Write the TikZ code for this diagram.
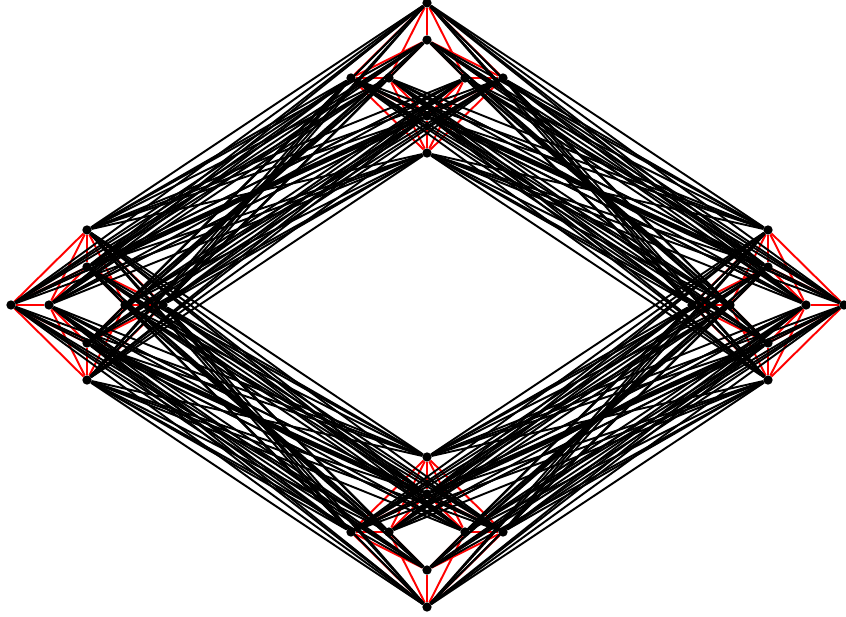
\documentclass[tikz,border=0pt]{standalone}
\usepackage{xcolor}
\definecolor{cred}{HTML}{FF0000}
\tikzset{
  vertexdot/.style={circle,fill=black,inner sep=0pt,minimum size=7pt},
  crossedge/.style={black,line width=1.45pt},
  withinedge/.style={cred,line width=1.45pt},
}
\begin{document}
\begin{tikzpicture}[x=0.75pt,y=-0.75pt]
  \useasboundingbox (0,0) rectangle (846,617);
  % four clusters of eight vertices
  \foreach \c/\cx/\cy in {t/427/78,l/87/305,r/768/305,b/427/532} {
    \foreach \n/\dx/\dy in {a1/-76/0,a2/-38/0,b1/38/0,b2/76/0,c1/0/-75,c2/0/-38,d1/0/38,d2/0/75}
      \node[vertexdot] (\c\n) at (\cx+\dx,\cy+\dy) {};
  }
  % inside a cluster
  \foreach \c in {t,l,r,b} {
    \foreach \s in {a,b,c,d} \draw[withinedge] (\c\s1) -- (\c\s2);
    \foreach \s/\w in {a/c,a/d,b/c,b/d}
      \foreach \i in {1,2}
        \foreach \j in {1,2} \draw[withinedge] (\c\s\i) -- (\c\w\j);
  }
  % between neighbouring clusters
  \foreach \p/\q in {t/l,t/r,b/l,b/r}
    \foreach \u in {a1,a2,b1,b2,c1,c2,d1,d2}
      \foreach \v in {a1,a2,b1,b2,c1,c2,d1,d2} \draw[crossedge] (\p\u) -- (\q\v);
\end{tikzpicture}
\end{document}
